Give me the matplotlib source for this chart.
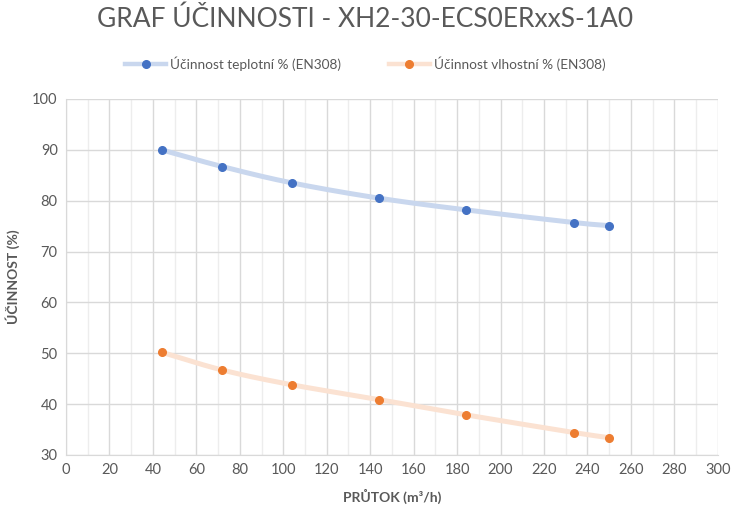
import numpy as np
import matplotlib
matplotlib.use("Agg")
import matplotlib.pyplot as plt
from matplotlib.lines import Line2D

plt.rcParams['font.family'] = ['Lato', 'DejaVu Sans']

flow = [44, 72, 104, 144, 184, 234, 250]
eff_temp = [90.0, 86.7, 83.5, 80.5, 78.2, 75.7, 75.1]
eff_hum = [50.2, 46.7, 43.8, 40.9, 37.9, 34.4, 33.4]
labels = ["Účinnost teplotní % (EN308)", "Účinnost vlhostní % (EN308)"]
title = "GRAF ÚČINNOSTI - XH2-30-ECS0ERxxS-1A0"
xlabel = "PRŮTOK (m³/h)"
ylabel = "ÚČINNOST (%)"


def catmull_rom(x, y, n=30):
    x = np.asarray(x, float); y = np.asarray(y, float)
    px = np.concatenate([[2 * x[0] - x[1]], x, [2 * x[-1] - x[-2]]])
    py = np.concatenate([[2 * y[0] - y[1]], y, [2 * y[-1] - y[-2]]])
    xs, ys = [], []
    for i in range(1, len(px) - 2):
        t = np.linspace(0, 1, n, endpoint=False)
        t2, t3 = t * t, t * t * t
        for arr, out in ((px, xs), (py, ys)):
            p0, p1, p2, p3 = arr[i - 1], arr[i], arr[i + 1], arr[i + 2]
            out.append(0.5 * ((2 * p1) + (-p0 + p2) * t + (2 * p0 - 5 * p1 + 4 * p2 - p3) * t2
                              + (-p0 + 3 * p1 - 3 * p2 + p3) * t3))
    xs.append([x[-1]]); ys.append([y[-1]])
    return np.concatenate(xs), np.concatenate(ys)


fig = plt.figure(figsize=(7.31, 5.11), dpi=100)
ax = fig.add_axes([0.0903, 0.1096, 0.8917, 0.6967])

grey = '#595959'
blue, blue_l = '#4472C4', '#C9D7EE'
orange, orange_l = '#ED7D31', '#FBE2D2'

for yv, c, cl in ((eff_temp, blue, blue_l), (eff_hum, orange, orange_l)):
    sx, sy = catmull_rom(flow, yv)
    ax.plot(sx, sy, color=cl, lw=3.6, solid_capstyle='round', zorder=3)
    ax.plot(flow, yv, 'o', color=c, ms=5.5, zorder=4)

ax.set_xlim(0, 300)
ax.set_ylim(30, 100)
ax.set_xticks(np.arange(0, 301, 20))
ax.set_xticks(np.arange(10, 300, 20), minor=True)
ax.set_yticks(np.arange(30, 101, 10))
ax.grid(True, which='major', color='#D9D9D9', lw=1.0, zorder=0)
ax.grid(True, which='minor', axis='x', color='#EDEDED', lw=1.0, zorder=0)
ax.set_axisbelow(True)
for s in ('top', 'right'):
    ax.spines[s].set_visible(False)
for s in ('left', 'bottom'):
    ax.spines[s].set_color('#D9D9D9')
ax.tick_params(which='both', length=0, colors=grey, labelsize=10.5, pad=6)

ax.set_xlabel(xlabel, color=grey, fontsize=10, fontweight='bold', labelpad=8)
ax.set_ylabel(ylabel, color=grey, fontsize=10, fontweight='bold', labelpad=9)

fig.text(0.5, 0.962, title, ha='center', va='center', fontsize=19, color=grey)

handles = [Line2D([], [], color=blue_l, lw=3.2, marker='o', mfc=blue, mec=blue, ms=5.5),
           Line2D([], [], color=orange_l, lw=3.2, marker='o', mfc=orange, mec=orange, ms=5.5)]
fig.legend(handles, labels, loc='center', bbox_to_anchor=(0.5, 0.875), ncol=2, frameon=False,
           fontsize=9.8, labelcolor=grey, handlelength=3.0, columnspacing=3.5, handletextpad=0.3)

fig.savefig('out.png', dpi=100)
